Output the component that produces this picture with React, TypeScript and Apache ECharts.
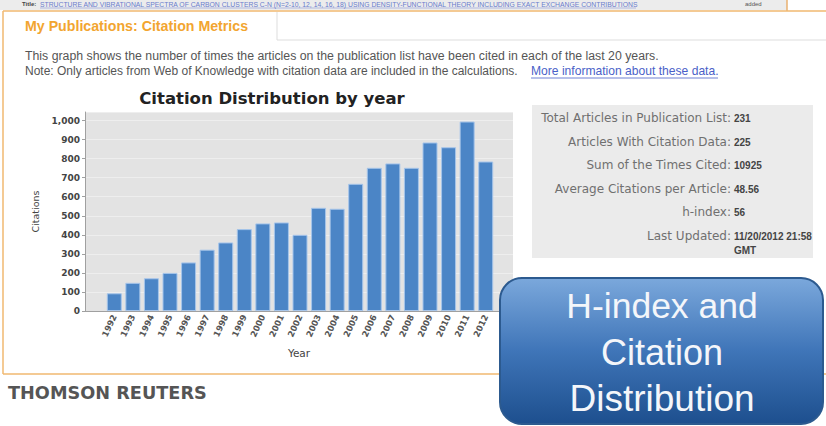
import React, { useEffect, useRef } from "react";
import * as echarts from "echarts";

const years = ["1992", "1993", "1994", "1995", "1996", "1997", "1998", "1999", "2000", "2001", "2002", "2003", "2004", "2005", "2006", "2007", "2008", "2009", "2010", "2011", "2012"];
const citations = [93, 148, 172, 200, 255, 322, 360, 430, 460, 465, 400, 542, 537, 668, 752, 775, 752, 885, 860, 995, 785];

const statLabels = [
  "Total Articles in Publication List:",
  "Articles With Citation Data:",
  "Sum of the Times Cited:",
  "Average Citations per Article:",
  "h-index:",
  "Last Updated:",
];
const statValues = ["231", "225", "10925", "48.56", "56", "11/20/2012 21:58"];

const SANS = "'Liberation Sans', Arial, sans-serif";
const DEJAVU = "'DejaVu Sans', sans-serif";

type TOpt = { fill?: string; size?: number; weight?: string; family?: string; align?: string; z?: number };
const txt = (x: number, y: number, text: string, o: TOpt = {}) => ({
  type: "text",
  x,
  y,
  z: o.z ?? 10,
  style: {
    text,
    fill: o.fill ?? "#555",
    fontSize: o.size ?? 11,
    fontWeight: o.weight ?? "normal",
    fontFamily: o.family ?? SANS,
    align: o.align ?? "left",
    textAlign: o.align ?? "left",
    verticalAlign: "middle",
    textVerticalAlign: "middle",
  },
});

export default function App() {
  const ref = useRef<HTMLDivElement>(null);
  useEffect(() => {
    const chart = echarts.init(ref.current!, null, { renderer: "svg" });
    const rowY = [118, 142, 165, 189, 212, 236];
    const graphic: any[] = [
      // top strip
      { type: "rect", z: 1, shape: { x: 0, y: 0, width: 787, height: 10 }, style: { fill: "#ececec" } },
      txt(22, 4, "Title:", { size: 6, fill: "#444", weight: "bold" }),
      txt(40, 4, "STRUCTURE AND VIBRATIONAL SPECTRA OF CARBON CLUSTERS C-N (N=2-10, 12, 14, 16, 18) USING DENSITY-FUNCTIONAL THEORY INCLUDING EXACT EXCHANGE CONTRIBUTIONS", { size: 6.8, fill: "#6a7ccc" }),
      { type: "line", z: 2, shape: { x1: 40, y1: 8, x2: 636, y2: 8 }, style: { stroke: "#8a98d8", lineWidth: 0.6 } },
      txt(745, 4, "added", { size: 6, fill: "#555" }),
      { type: "line", z: 2, shape: { x1: 787, y1: 0, x2: 787, y2: 11 }, style: { stroke: "#e8b070", lineWidth: 1.5 } },
      // panel border
      { type: "line", z: 2, shape: { x1: 3, y1: 11, x2: 826, y2: 11 }, style: { stroke: "#f0b870", lineWidth: 1.5 } },
      { type: "line", z: 2, shape: { x1: 3, y1: 11, x2: 3, y2: 374 }, style: { stroke: "#f0b870", lineWidth: 1.5 } },
      { type: "line", z: 2, shape: { x1: 3, y1: 374, x2: 826, y2: 374 }, style: { stroke: "#f0b870", lineWidth: 1.5 } },
      // tab
      { type: "line", z: 2, shape: { x1: 277, y1: 12, x2: 277, y2: 40 }, style: { stroke: "#dddddd", lineWidth: 1 } },
      { type: "line", z: 2, shape: { x1: 277, y1: 40, x2: 826, y2: 40 }, style: { stroke: "#dddddd", lineWidth: 1 } },
      txt(25, 26, "My Publications: Citation Metrics", { size: 14.2, weight: "bold", fill: "#f2a530" }),
      // description
      txt(25, 56, "This graph shows the number of times the articles on the publication list have been cited in each of the last 20 years.", { size: 12.3, fill: "#555" }),
      txt(25, 71, "Note: Only articles from Web of Knowledge with citation data are included in the calculations.", { size: 12, fill: "#555" }),
      txt(531, 71, "More information about these data.", { size: 12.1, fill: "#4a5fc8" }),
      { type: "line", z: 2, shape: { x1: 531, y1: 78, x2: 718, y2: 78 }, style: { stroke: "#4a5fc8", lineWidth: 0.8 } },
      // chart title
      txt(272, 98, "Citation Distribution by year", { size: 16.5, weight: "bold", fill: "#222", family: DEJAVU, align: "center" }),
      // stats box
      { type: "rect", z: 1, shape: { x: 532, y: 105, width: 281, height: 153 }, style: { fill: "#ebebeb" } },
      ...statLabels.map((l, i) => txt(731, rowY[i], l, { size: 12, fill: "#707070", align: "right", family: DEJAVU })),
      ...statValues.map((v, i) => txt(734, rowY[i], v, { size: 10, fill: "#444", weight: "bold" })),
      txt(734, 250, "GMT", { size: 10, fill: "#444", weight: "bold" }),
      // logo text
      txt(8, 393, "THOMSON REUTERS", { size: 17.7, weight: "bold", fill: "#555", family: DEJAVU }),
      // blue callout
      {
        type: "rect",
        z: 100,
        shape: { x: 500, y: 278, width: 323, height: 146, r: 22 },
        style: {
          fill: {
            type: "linear", x: 0, y: 0, x2: 0, y2: 1,
            colorStops: [
              { offset: 0, color: "#7ba8dc" },
              { offset: 0.5, color: "#3f75b8" },
              { offset: 1, color: "#1d4f8e" },
            ],
          },
          stroke: "#2c5a8f",
          lineWidth: 2,
        },
      },
      txt(662, 306, "H-index and", { size: 35.5, fill: "#f4f6fa", align: "center", z: 101 }),
      txt(662, 352, "Citation", { size: 36, fill: "#f4f6fa", align: "center", z: 101 }),
      txt(662, 398, "Distribution", { size: 37, fill: "#f4f6fa", align: "center", z: 101 }),
    ];

    chart.setOption({
      animation: false,
      backgroundColor: "#ffffff",
      graphic,
      grid: [
        { left: 85, top: 112, width: 428, height: 199, show: true, backgroundColor: "#e3e3e3", borderWidth: 0 },
        { left: 105, top: 112, width: 390, height: 199 },
      ],
      xAxis: [
        {
          gridIndex: 0,
          type: "value",
          min: 0,
          max: 1,
          axisLine: { show: true, lineStyle: { color: "#a0a0a0" } },
          axisTick: { show: false },
          axisLabel: { show: false },
          splitLine: { show: false },
          name: "Year",
          nameLocation: "middle",
          nameGap: 36,
          nameTextStyle: { fontSize: 10.5, color: "#444", fontFamily: DEJAVU },
        },
        {
          gridIndex: 1,
          type: "category",
          data: years,
          axisLine: { show: false },
          axisTick: { show: false },
          axisLabel: { interval: 0, rotate: 65, fontSize: 8.5, fontWeight: "bold", color: "#555", fontFamily: DEJAVU, margin: 4 },
        },
      ],
      yAxis: [
        {
          gridIndex: 0,
          type: "value",
          min: 0,
          max: 1045,
          interval: 100,
          axisLine: { show: true, lineStyle: { color: "#a0a0a0" } },
          axisTick: { show: true, length: 3, lineStyle: { color: "#a0a0a0" } },
          axisLabel: {
            fontSize: 9,
            fontWeight: "bold",
            color: "#444",
            fontFamily: DEJAVU,
            margin: 5,
            showMaxLabel: false,
            formatter: (v: number) => (v % 100 === 0 ? v.toLocaleString("en-US") : ""),
          },
          splitLine: { show: true, lineStyle: { color: "#eeeeee", width: 1 } },
          name: "Citations",
          nameLocation: "middle",
          nameGap: 41,
          nameTextStyle: { fontSize: 9.5, color: "#444", fontFamily: DEJAVU },
        },
        { gridIndex: 1, type: "value", min: 0, max: 1045, show: false },
      ],
      series: [
        {
          type: "bar",
          xAxisIndex: 1,
          yAxisIndex: 1,
          data: citations,
          barWidth: 15,
          itemStyle: { color: "#4b85c6", borderColor: "#a6c5ea", borderWidth: 1 },
        },
      ],
    });
    return () => chart.dispose();
  }, []);
  return (
    <div
      ref={ref}
      style={{ position: "absolute", left: 0, top: 0, width: 826, height: 426, background: "#fff" }}
    />
  );
}
